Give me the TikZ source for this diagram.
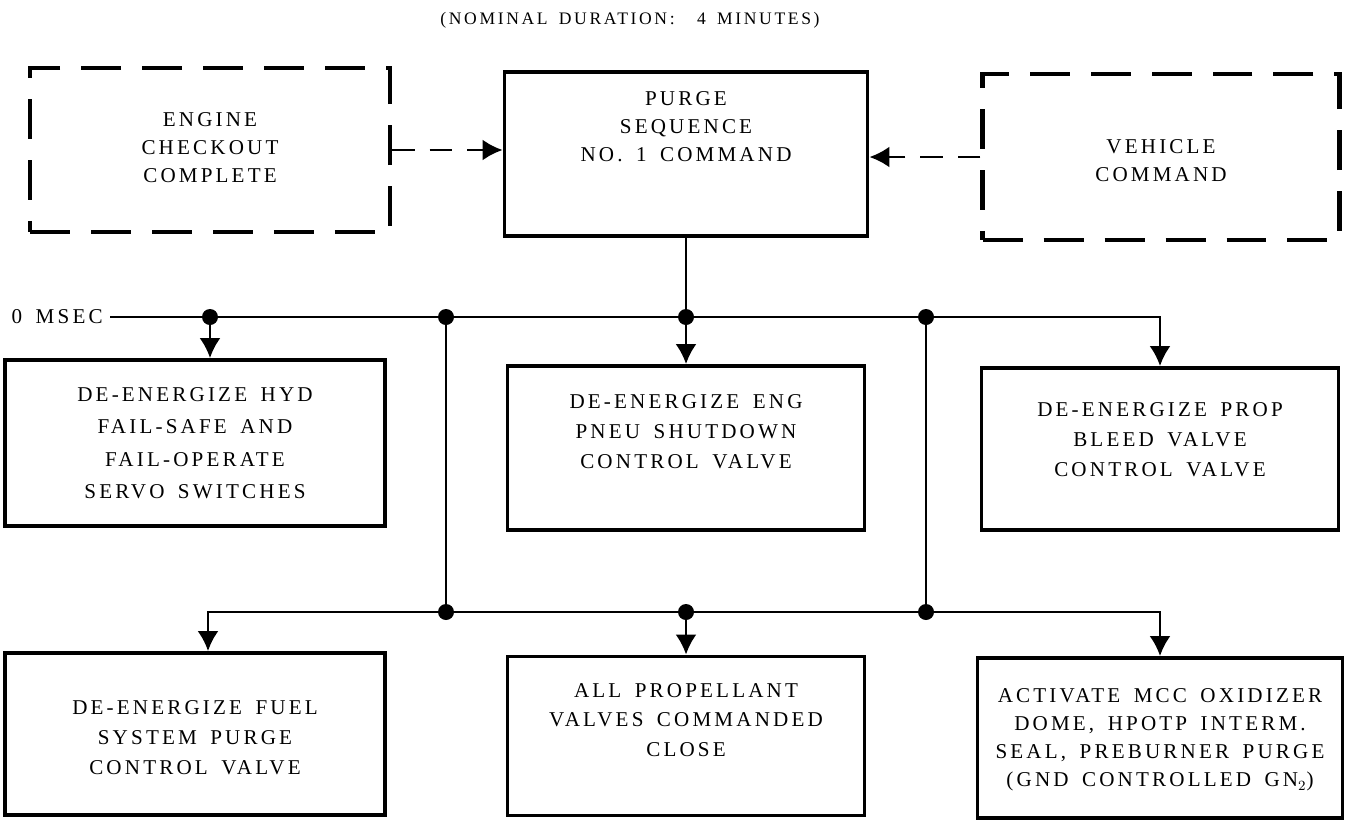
\documentclass[tikz,border=0pt]{standalone}
\usepackage{fontspec}
\setmainfont{Liberation Serif}[LetterSpace=15,WordSpace=1.6]
\usetikzlibrary{arrows.meta}
\begin{document}
\begin{tikzpicture}[x=0.02cm,y=-0.02cm,
    blocco/.style={draw,line width=2.2pt,inner sep=0pt,minimum width=7.14cm,minimum height=3.24cm},
    tratt/.style={blocco,line width=2.6pt,dash pattern=on 0.8cm off 0.42cm},
    testo/.style={align=center,inner sep=0pt,font=\fontsize{12}{17}\selectfont},
    filo/.style={line width=1.6pt},
    freccia/.style={filo,-{Latex[length=0.4cm,width=0.42cm]}},
    punto/.style={circle,fill,inner sep=0pt,minimum size=0.32cm}]
    \useasboundingbox (0,0) rectangle (1352,822);

    % titolo
    \node[testo,font=\fontsize{10}{12}\selectfont] (titolo) at (630,20) {(NOMINAL DURATION:\ \ 4 MINUTES)};

    % riquadri in alto
    \node[tratt,minimum width=7.2cm,minimum height=3.28cm] (checkout) at (210,150) {};
    \node[blocco,minimum width=7.26cm,minimum height=3.28cm] (purge) at (686,154) {};
    \node[tratt,minimum height=3.32cm] (vehicle) at (1161,157) {};
    \node[testo,font=\fontsize{12}{16}\selectfont] (checkout-t) at (210,148) {ENGINE\\CHECKOUT\\COMPLETE};
    \node[testo,font=\fontsize{12}{16}\selectfont] (purge-t) at (686,127) {PURGE\\SEQUENCE\\NO. 1 COMMAND};
    \node[testo,font=\fontsize{12}{16}\selectfont] (vehicle-t) at (1161,161) {VEHICLE\\COMMAND};

    % riquadri prima fila
    \node[blocco,minimum width=7.6cm,minimum height=3.32cm] (hyd) at (195,443) {};
    \node[blocco,minimum height=3.28cm] (pneu) at (686,448) {};
    \node[blocco] (bleed) at (1160,449) {};
    \node[testo,font=\fontsize{12}{18.5}\selectfont] (hyd-t) at (195,443) {DE-ENERGIZE HYD\\FAIL-SAFE AND\\FAIL-OPERATE\\SERVO SWITCHES};
    \node[testo] (pneu-t) at (686,432) {DE-ENERGIZE ENG\\PNEU SHUTDOWN\\CONTROL VALVE};
    \node[testo] (bleed-t) at (1160,440) {DE-ENERGIZE PROP\\BLEED VALVE\\CONTROL VALVE};

    % riquadri seconda fila
    \node[blocco,minimum width=7.6cm] (fuel) at (195,734) {};
    \node[blocco,minimum height=3.18cm] (valves) at (686,736) {};
    \node[blocco,minimum width=7.3cm,minimum height=3.2cm] (mcc) at (1160,738) {};
    \node[testo] (fuel-t) at (195,738) {DE-ENERGIZE FUEL\\SYSTEM PURGE\\CONTROL VALVE};
    \node[testo] (valves-t) at (686,720) {ALL PROPELLANT\\VALVES COMMANDED\\CLOSE};
    \node[testo,font=\fontsize{12}{16}\selectfont] (mcc-t) at (1160,740) {ACTIVATE MCC OXIDIZER\\DOME, HPOTP INTERM.\\SEAL, PREBURNER PURGE\\(GND CONTROLLED GN$_2$)};

    % comandi tratteggiati
    \draw[freccia,dash pattern=on 0.45cm off 0.3cm] (checkout.east) -- (checkout.east -| purge.west);
    \draw[freccia,dash pattern=on 0.45cm off 0.3cm] (vehicle.west) -- (vehicle.west -| purge.east);

    % linea 0 msec
    \node[testo,anchor=east,inner xsep=4pt] (msec) at (110,317) {0 MSEC};
    \node[punto] (n1) at (210,317) {};
    \node[punto] (n2) at (446,317) {};
    \node[punto] (n3) at (686,317) {};
    \node[punto] (n4) at (926,317) {};
    \coordinate (n5) at (1160,317);
    \draw[filo] (purge.south) -- (n3);
    \draw[freccia] (msec.east) -- (n5) -- (bleed.north);
    \draw[freccia] (n1) -- (n1 |- hyd.north);
    \draw[freccia] (n3) -- (pneu.north);

    % seconda linea
    \node[punto] (m2) at (446,612) {};
    \node[punto] (m3) at (686,612) {};
    \node[punto] (m4) at (926,612) {};
    \coordinate (m1) at (208,612);
    \coordinate (m5) at (1160,612);
    \draw[filo] (n2) -- (m2);
    \draw[filo] (n4) -- (m4);
    \draw[freccia] (m3) -- (m1) -- (m1 |- fuel.north);
    \draw[freccia] (m3) -- (m5) -- (mcc.north);
    \draw[freccia] (m3) -- (valves.north);
\end{tikzpicture}
\end{document}
